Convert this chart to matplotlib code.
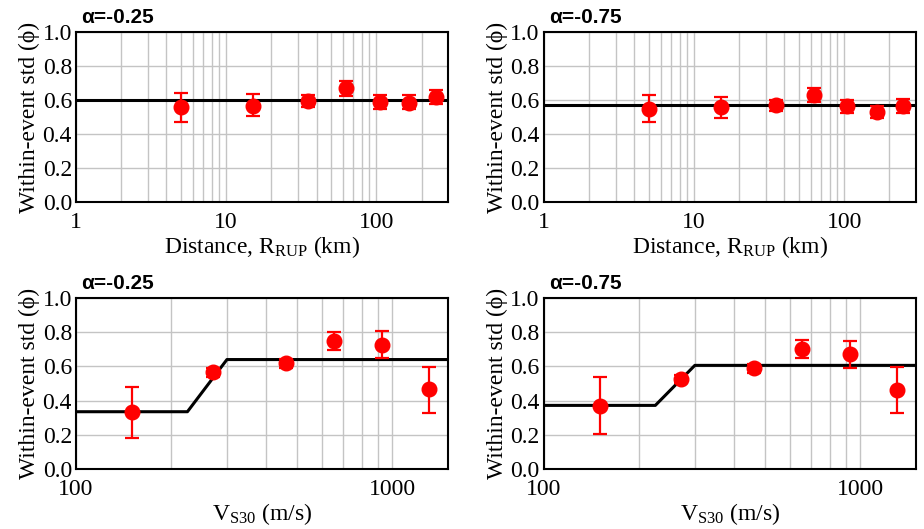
#Within-event standard deviation vs distance and Vs30
import numpy as np
import matplotlib.pyplot as plt
from matplotlib.ticker import FixedLocator, NullFormatter

plt.rcParams['font.family'] = ['Liberation Serif', 'DejaVu Serif']
plt.rcParams['mathtext.fontset'] = 'custom'
plt.rcParams['mathtext.rm'] = 'Liberation Serif'

#Distance panels
rrup = [5, 15, 35, 63, 105, 166, 248]
phi_r_25 = [0.557, 0.567, 0.592, 0.669, 0.586, 0.584, 0.618]
lo_r_25 = [0.470, 0.504, 0.557, 0.622, 0.547, 0.545, 0.575]
hi_r_25 = [0.639, 0.633, 0.627, 0.714, 0.630, 0.630, 0.660]
fit_r_25 = 0.598

phi_r_75 = [0.549, 0.557, 0.571, 0.629, 0.563, 0.529, 0.563]
lo_r_75 = [0.469, 0.492, 0.537, 0.586, 0.522, 0.494, 0.524]
hi_r_75 = [0.627, 0.620, 0.598, 0.670, 0.600, 0.563, 0.604]
fit_r_75 = 0.569

#Vs30 panels
vs30 = [150, 271, 460, 656, 927, 1309]
phi_v_25 = [0.334, 0.566, 0.619, 0.750, 0.727, 0.467]
lo_v_25 = [0.184, 0.537, 0.592, 0.693, 0.648, 0.326]
hi_v_25 = [0.482, 0.588, 0.643, 0.799, 0.809, 0.598]
fit_vx = [100, 225, 300, 1500]
fit_v_25 = [0.335, 0.335, 0.640, 0.640]

phi_v_75 = [0.369, 0.527, 0.588, 0.703, 0.674, 0.463]
lo_v_75 = [0.207, 0.502, 0.561, 0.650, 0.592, 0.326]
hi_v_75 = [0.537, 0.549, 0.613, 0.754, 0.750, 0.596]
fit_v_75 = [0.372, 0.372, 0.606, 0.606]

fig = plt.figure(figsize=(9.24, 5.29), dpi=100)
left = [0.0823, 0.5887]
width = 0.4025
boxes = [(left[0], 0.618, width, 0.3215), (left[1], 0.618, width, 0.3215),
         (left[0], 0.1134, width, 0.3233), (left[1], 0.1134, width, 0.3233)]

panels = [
    ("α=-0.25", rrup, phi_r_25, lo_r_25, hi_r_25, [1, 300], [fit_r_25, fit_r_25], "dist"),
    ("α=-0.75", rrup, phi_r_75, lo_r_75, hi_r_75, [1, 300], [fit_r_75, fit_r_75], "dist"),
    ("α=-0.25", vs30, phi_v_25, lo_v_25, hi_v_25, fit_vx, fit_v_25, "vs"),
    ("α=-0.75", vs30, phi_v_75, lo_v_75, hi_v_75, fit_vx, fit_v_75, "vs"),
]

fs = 17
for box, (title, x, y, lo, hi, fx, fy, kind) in zip(boxes, panels):
    ax = fig.add_axes(box)
    y = np.array(y)
    err = [y - np.array(lo), np.array(hi) - y]
    ax.set_xscale('log')
    ax.plot(fx, fy, color='black', lw=2.2, zorder=3)
    ax.errorbar(x, y, yerr=err, fmt='o', color='red', ms=10.5, elinewidth=1.6,
                capsize=5, capthick=1.6, zorder=4)
    if kind == "dist":
        ax.set_xlim(1, 300)
        ax.xaxis.set_major_locator(FixedLocator([1, 10, 100]))
        ax.set_xticklabels(["1", "10", "100"])
        minors = [m * d for d in [1, 10, 100] for m in range(2, 10) if m * d < 300]
        ax.set_xlabel(r"Distance, $\mathregular{R_{RUP}}$ (km)", fontsize=fs, labelpad=1)
    else:
        ax.set_xlim(100, 1500)
        ax.xaxis.set_major_locator(FixedLocator([100, 1000]))
        ax.set_xticklabels(["100", "1000"])
        minors = [m * 100 for m in range(2, 10)]
        ax.set_xlabel(r"$\mathregular{V_{S30}}$ (m/s)", fontsize=fs, labelpad=1)
    ax.xaxis.set_minor_locator(FixedLocator(minors))
    ax.xaxis.set_minor_formatter(NullFormatter())
    ax.set_ylim(0, 1.0)
    ax.set_yticks(np.arange(0, 1.01, 0.2))
    ax.set_yticklabels(["%.1f" % v for v in np.arange(0, 1.01, 0.2)])
    ax.grid(True, which='both', color='#c4c4c4', lw=1.0, zorder=0)
    ax.set_axisbelow(True)
    ax.tick_params(which='both', length=0, labelsize=fs)
    ax.tick_params(axis='x', pad=7)
    ax.tick_params(axis='y', pad=3)
    for s in ax.spines.values():
        s.set_linewidth(1.5)
    ax.set_ylabel("Within-event std (ϕ)", fontsize=fs, labelpad=2)
    ax.text(0.015, 1.03, title, transform=ax.transAxes, fontsize=15,
            fontweight='bold', family=['Liberation Sans', 'DejaVu Sans'],
            ha='left', va='bottom')

fig.savefig("out.png", dpi=100)
